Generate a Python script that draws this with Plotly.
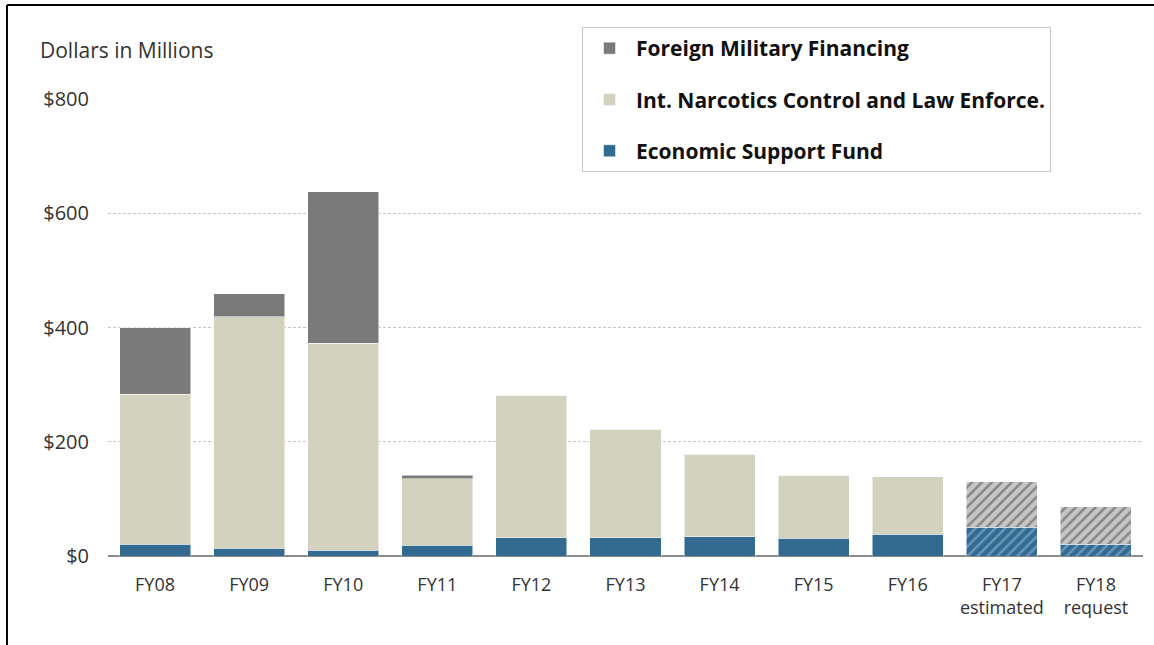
import plotly.graph_objects as go

categories = ["FY08", "FY09", "FY10", "FY11", "FY12", "FY13", "FY14", "FY15", "FY16", "FY17", "FY18"]
tick_labels = ["FY08", "FY09", "FY10", "FY11", "FY12", "FY13", "FY14", "FY15", "FY16",
               "FY17<br>estimated", "FY18<br>request"]
esf = [21, 14, 10, 19, 32, 32, 34, 31, 38, 50, 21]
incle = [262, 405, 362, 116, 249, 190, 144, 110, 101, 80, 65]
fmf = [117, 40, 266, 6, 0, 0, 0, 0, 0, 0, 0]
projected = [False] * 9 + [True, True]

y_ticks = [0, 200, 400, 600, 800]
y_tick_text = ["$0", "$200", "$400", "$600", "$800"]

FONT = "'Open Sans', Lato, sans-serif"

def per_bar(normal, hatched):
    return [hatched if p else normal for p in projected]

fig = go.Figure()

fig.add_trace(go.Bar(
    x=categories, y=esf, name="Economic Support Fund", legendgroup="esf", legendrank=3,
    marker=dict(color="#336a90",
                line=dict(color="rgba(255,255,255,0.5)", width=1),
                pattern=dict(shape=per_bar("", "/"), fgcolor="#9cc6e4",
                             size=7, solidity=0.35)),
))
fig.add_trace(go.Bar(
    x=categories, y=incle, name="Int. Narcotics Control and Law Enforce.", legendgroup="incle",
    legendrank=2,
    marker=dict(color=per_bar("#d3d2be", "#c6c6c6"),
                line=dict(color="rgba(255,255,255,0.5)", width=1),
                pattern=dict(shape=per_bar("", "/"), fgcolor="#e0e0e0",
                             size=7, solidity=0.35)),
))
fig.add_trace(go.Bar(
    x=categories, y=fmf, name="Foreign Military Financing", legendgroup="fmf", legendrank=1,
    marker=dict(color="#7a7a7a", line=dict(color="rgba(255,255,255,0.5)", width=1)),
))

fig.update_layout(
    barmode="stack",
    bargap=0.245,
    width=1154, height=645,
    margin=dict(l=108, r=11, t=99, b=89),
    paper_bgcolor="white", plot_bgcolor="white",
    font=dict(family=FONT, size=18, color="#333333"),
    showlegend=True,
    legend=dict(
        x=0.458, y=1.1575, xanchor="left", yanchor="top",
        traceorder="grouped", tracegroupgap=21,
        bordercolor="#c8c8c8", borderwidth=1, bgcolor="white",
        font=dict(family=FONT, size=21, color="#111111", weight="bold"),
        itemwidth=43,
    ),
    xaxis=dict(
        tickmode="array", tickvals=categories, ticktext=tick_labels,
        showgrid=False, showline=False, ticks="",
        tickfont=dict(size=18, color="#333333"),
        ticklabelstandoff=16,
    ),
    yaxis=dict(
        range=[0, 800], tickmode="array", tickvals=y_ticks, ticktext=y_tick_text,
        showgrid=True, gridcolor="#c4c4c4", griddash="3px,2px", gridwidth=1,
        zeroline=True, zerolinecolor="#8c8c8c", zerolinewidth=2,
        showline=False, ticks="",
        tickfont=dict(size=20, color="#333333"),
        ticklabelstandoff=18,
    ),
    annotations=[dict(
        text="Dollars in Millions", xref="paper", yref="paper",
        x=-0.0676, y=1.107, xanchor="left", yanchor="middle", showarrow=False,
        font=dict(family=FONT, size=21, color="#333333"),
    )],
    shapes=[
        dict(type="line", xref="paper", yref="paper", x0=-0.0976, x1=-0.0976,
             y0=1.2057, y1=-0.35, line=dict(color="black", width=2)),
        dict(type="line", xref="paper", yref="paper", x0=-0.0976, x1=1.02,
             y0=1.2057, y1=1.2057, line=dict(color="black", width=2)),
    ],
)

fig.write_html("out.html", config={"displayModeBar": False},
               post_script="document.body.style.margin='0';")
